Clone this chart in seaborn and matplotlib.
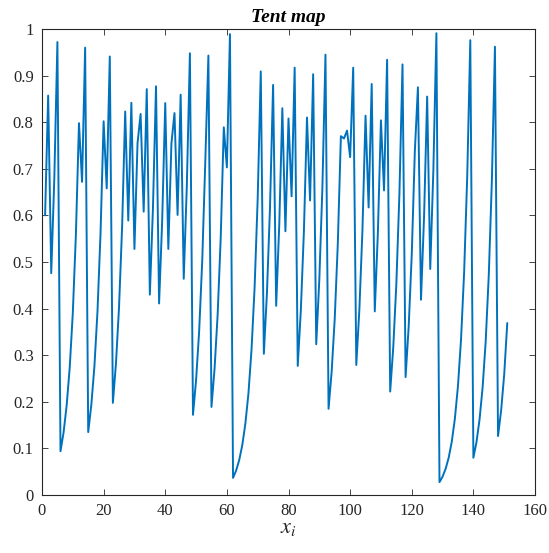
import matplotlib
matplotlib.use("Agg")
import matplotlib.pyplot as plt
import seaborn as sns
import pandas as pd
from matplotlib.ticker import FixedLocator, FixedFormatter

# Iterates of the tent map, step 1..151
tent_values = [
    0.600, 0.857, 0.476, 0.680, 0.972, 0.094, 0.134, 0.192, 0.274, 0.391,
    0.559, 0.798, 0.672, 0.960, 0.135, 0.193, 0.275, 0.393, 0.562, 0.802,
    0.658, 0.941, 0.1977, 0.282, 0.403, 0.576, 0.823, 0.589, 0.8416, 0.528,
    0.7547, 0.8176, 0.608, 0.871, 0.430, 0.614, 0.877, 0.411, 0.588, 0.841,
    0.528, 0.754, 0.8196, 0.601, 0.859, 0.464, 0.663, 0.948, 0.172, 0.246,
    0.351, 0.502, 0.717, 0.943, 0.189, 0.2706, 0.3866, 0.552, 0.789, 0.703,
    0.989, 0.0367, 0.0524, 0.0749, 0.107, 0.153, 0.218, 0.312, 0.4455, 0.636,
    0.909, 0.303, 0.433, 0.618, 0.880, 0.406, 0.580, 0.830, 0.566, 0.808,
    0.641, 0.917, 0.277, 0.396, 0.566, 0.810, 0.632, 0.903, 0.3235, 0.462,
    0.660, 0.945, 0.185, 0.264, 0.378, 0.539, 0.770, 0.765, 0.782, 0.725,
    0.917, 0.279, 0.398, 0.569, 0.814, 0.617, 0.882, 0.394, 0.562, 0.804,
    0.6535, 0.934, 0.222, 0.317, 0.453, 0.647, 0.924, 0.253, 0.361, 0.516,
    0.7375, 0.875, 0.419, 0.598, 0.855, 0.485, 0.694, 0.991, 0.0276, 0.0394,
    0.0563, 0.0804, 0.1148, 0.164, 0.234, 0.3346, 0.478, 0.683, 0.976, 0.080,
    0.113, 0.162, 0.231, 0.330, 0.472, 0.674, 0.962, 0.1265, 0.181, 0.258,
    0.369,
]
steps = list(range(1, len(tent_values) + 1))

x_ticks = [0, 20, 40, 60, 80, 100, 120, 140, 160]
y_ticks = [0, 0.1, 0.2, 0.3, 0.4, 0.5, 0.6, 0.7, 0.8, 0.9, 1.0]
y_tick_labels = ["0", "0.1", "0.2", "0.3", "0.4", "0.5", "0.6", "0.7", "0.8", "0.9", "1"]

sns.set_theme(style="ticks")
plt.rcParams["font.family"] = ["Liberation Serif", "DejaVu Serif"]
plt.rcParams["mathtext.fontset"] = "stix"
plt.rcParams["xtick.direction"] = "in"
plt.rcParams["ytick.direction"] = "in"

df = pd.DataFrame({"step": steps, "value": tent_values})

fig = plt.figure(figsize=(5.49, 5.53), dpi=100)
ax = fig.add_axes([42 / 549, 1 - 495 / 553, (535 - 42) / 549, (495 - 29) / 553])

sns.lineplot(data=df, x="step", y="value", ax=ax, color="#0072BD", linewidth=1.4)

ax.set_xlim(0, 160)
ax.set_ylim(0, 1)
ax.xaxis.set_major_locator(FixedLocator(x_ticks))
ax.yaxis.set_major_locator(FixedLocator(y_ticks))
ax.yaxis.set_major_formatter(FixedFormatter(y_tick_labels))

for side in ["left", "right", "top", "bottom"]:
    ax.spines[side].set_visible(True)
    ax.spines[side].set_color("#262626")
    ax.spines[side].set_linewidth(0.8)

ax.tick_params(axis="both", which="major", direction="in", length=4, width=0.6,
               color="#262626", labelsize=12, labelcolor="#262626",
               top=True, right=True, pad=6)

ax.set_xlabel("$x_i$", fontsize=16, color="#262626", labelpad=0)
ax.set_ylabel("")
ax.set_title("Tent map", fontsize=14, fontweight="bold", fontstyle="italic",
             color="#000000", pad=5)

fig.savefig("out.png", dpi=100)
